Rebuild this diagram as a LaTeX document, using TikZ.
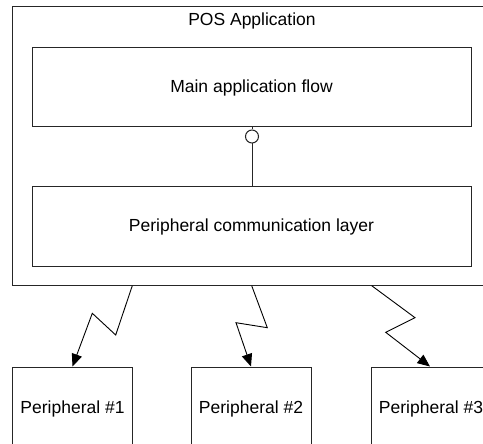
\documentclass[tikz,border=0pt]{standalone}
\usepackage{fontspec}
\setmainfont{Liberation Sans}
\usetikzlibrary{arrows.meta}
\begin{document}
\begin{tikzpicture}[x=1pt,y=-1pt,
  box/.style={draw=black!85,line width=1pt,rectangle,inner sep=0pt,font=\fontsize{17.5}{21}\selectfont},
  lbl/.style={inner sep=0pt,font=\fontsize{17.5}{21}\selectfont},
  arr/.style={draw=black,line width=0.9pt,-{Triangle[length=12.5pt,width=10.5pt]}},
  conn/.style={draw=black!85,line width=1pt}]
\useasboundingbox (0,0) rectangle (483,444);
\clip (0,0) rectangle (483,444);
\fill[white] (0,0) rectangle (483,444);
% outer container
\node[box,minimum width=477.5pt,minimum height=278.7pt] (outer) at (251.25,146.35) {};
\node[lbl] (title) at (252,21) {POS Application};
\node[box,minimum width=439pt,minimum height=79pt] (main) at (251.5,87.5) {Main application flow};
\node[box,minimum width=439pt,minimum height=80pt] (pcl) at (251.5,227) {Peripheral communication layer};
\node[draw=black!85,line width=1pt,circle,minimum size=13pt,inner sep=0pt] (iface) at (252,136.5) {};
\draw[conn] (main.south -| iface) -- (iface.north);
\draw[conn] (iface.south) -- (pcl.north -| iface);
% peripherals
\node[box,minimum width=120pt,minimum height=83pt] (p1) at (72.5,408.5) {Peripheral \#1};
\node[box,minimum width=120pt,minimum height=83pt] (p2) at (251,408.5) {Peripheral \#2};
\node[box,minimum width=120pt,minimum height=83pt] (p3) at (431,408.5) {Peripheral \#3};
% start points on outer box bottom
\coordinate (s1) at (132.3,285.7);
\coordinate (s2) at (251.7,285.7);
\coordinate (s3) at (371.7,285.7);
\draw[arr] (s1) -- (115.7,335) -- (92.3,313.3) -- (p1.north);
\draw[arr] (s2) -- (267.3,327.7) -- (236,322.7) -- (p2.north);
\draw[arr] (s3) -- (415,317.7) -- (385.7,332.3) -- ([xshift=-1pt]p3.north);
\end{tikzpicture}
\end{document}
